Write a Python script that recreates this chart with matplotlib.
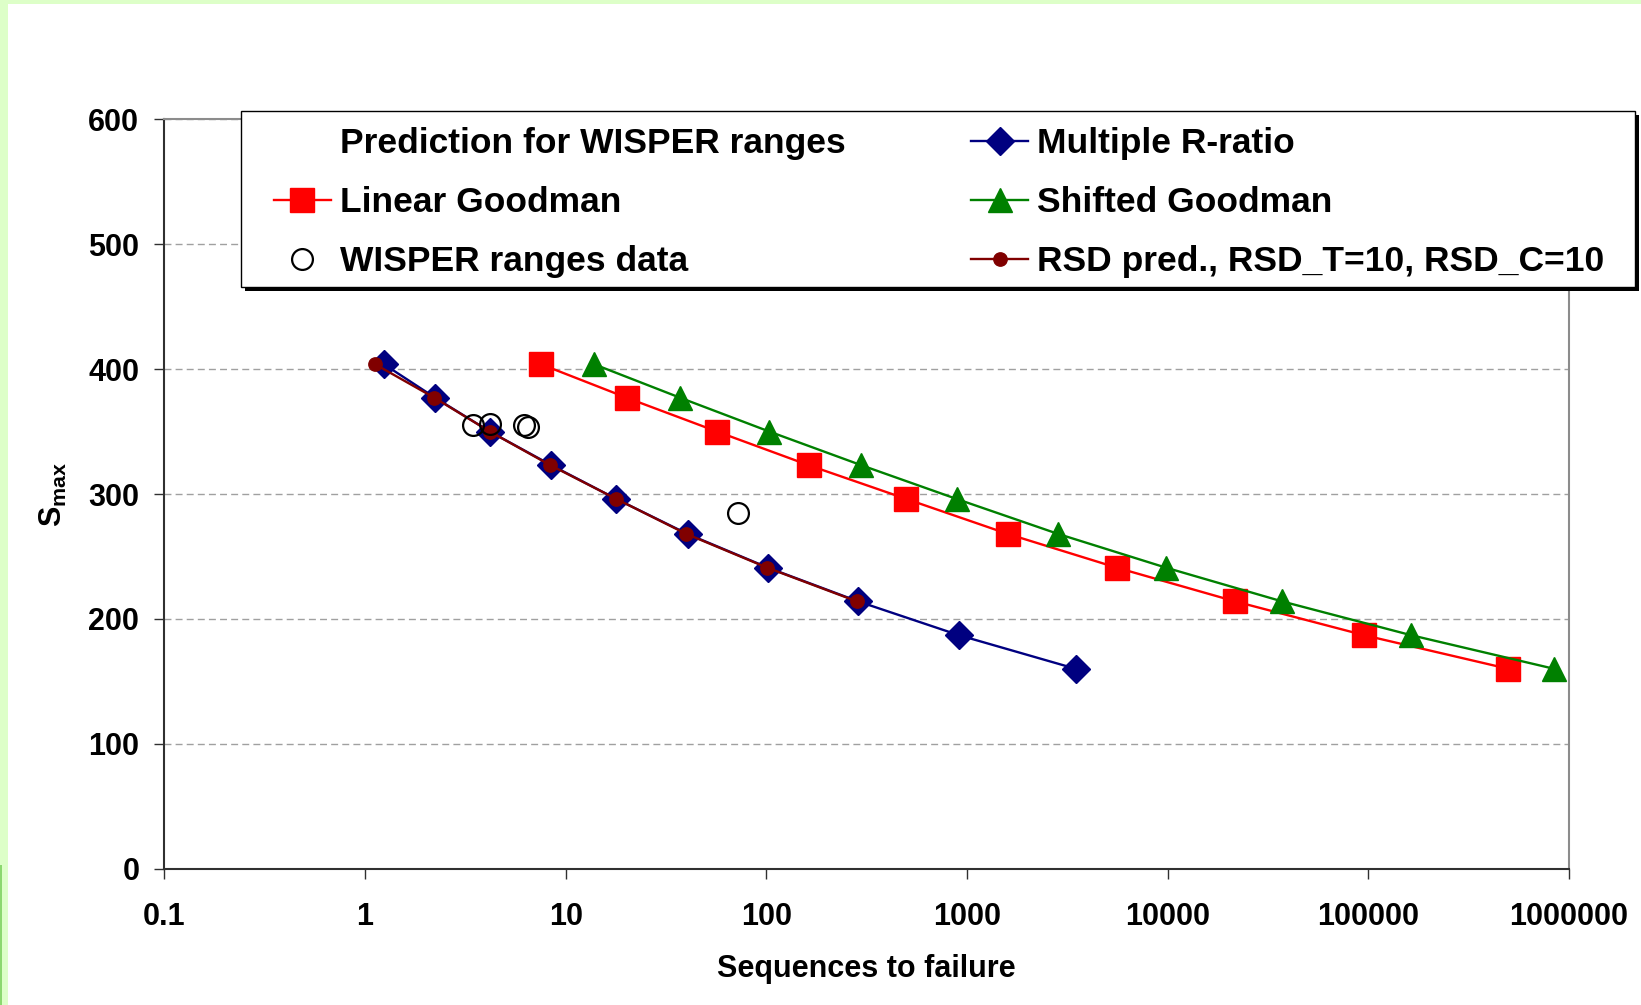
import matplotlib
matplotlib.use('Agg')
import matplotlib.pyplot as plt
from matplotlib.patches import Rectangle
from matplotlib.lines import Line2D
from matplotlib.ticker import NullLocator

plt.rcParams['font.family'] = ['Liberation Sans', 'DejaVu Sans']
plt.rcParams['font.weight'] = 'bold'
plt.rcParams['mathtext.fontset'] = 'custom'
plt.rcParams['mathtext.rm'] = 'Liberation Sans:bold'
plt.rcParams['mathtext.bf'] = 'Liberation Sans:bold'
plt.rcParams['mathtext.it'] = 'Liberation Sans:bold'

# ---------------- data ----------------
smax_levels = [404, 377, 350, 323, 296, 268, 241, 214, 187, 160]

multi_r_N = [1.24, 2.24, 4.19, 8.5, 17.9, 40.5, 102, 287, 910, 3490]
multi_r_S = smax_levels

rsd_N = [1.12, 2.22, 4.19, 8.4, 17.9, 40.0, 101, 283]
rsd_S = smax_levels[:8]

linear_N = [7.5, 20.2, 56.8, 163, 499, 1600, 5580, 21700, 95000, 499000]
linear_S = smax_levels

shifted_N = [13.8, 37.3, 103.5, 298, 889, 2850, 9820, 37200, 163000, 845000]
shifted_S = smax_levels

wisper_N = [3.46, 4.20, 6.20, 6.51, 72.4]
wisper_S = [355, 356, 355, 354, 285]

xtick_vals = [0.1, 1, 10, 100, 1000, 10000, 100000, 1000000]
xtick_labels = ['0.1', '1', '10', '100', '1000', '10000', '100000', '1000000']
ytick_vals = [0, 100, 200, 300, 400, 500, 600]

labels = ['Prediction for WISPER ranges', 'Linear Goodman', 'WISPER ranges data',
          'Multiple R-ratio', 'Shifted Goodman', 'RSD pred., RSD_T=10, RSD_C=10']

# ---------------- figure ----------------
W, H = 1641, 1005
fig = plt.figure(figsize=(W / 100, H / 100), dpi=100)
fig.patch.set_facecolor('#DDFFC8')
# white inner panel
fig.patches.append(Rectangle((8 / W, 0), 1 - 8 / W, 1 - 4 / H, transform=fig.transFigure,
                             fc='white', ec='none', zorder=-2))
fig.patches.append(Rectangle((0, 0), 2 / W, 1 - 865 / H, transform=fig.transFigure,
                             fc='#8CD870', ec='none', zorder=-1))

x0, x1 = 164.3, 1569.0
ytop, ybot = 119.3, 868.7
ax = fig.add_axes([x0 / W, 1 - ybot / H, (x1 - x0) / W, (ybot - ytop) / H])
ax.set_facecolor('white')

ax.set_xscale('log')
ax.set_xlim(0.1, 1e6)
ax.set_ylim(0, 600)

lw = 1.7
l_multi, = ax.plot(multi_r_N, multi_r_S, color='#000080', lw=lw, marker='D',
                   markersize=14, mfc='#000080', mec='#000080', zorder=3)
l_rsd, = ax.plot(rsd_N, rsd_S, color='#800000', lw=lw, marker='o',
                 markersize=9.6, mfc='#800000', mec='#800000', zorder=4)
l_lin, = ax.plot(linear_N, linear_S, color='#FF0000', lw=lw, marker='s',
                 markersize=17, mfc='#FF0000', mec='#FF0000', zorder=3)
l_shift, = ax.plot(shifted_N, shifted_S, color='#008000', lw=lw, marker='^',
                   markersize=17, mfc='#008000', mec='#008000', zorder=3)
l_wis, = ax.plot(wisper_N, wisper_S, linestyle='none', marker='o', markersize=15,
                 mfc='none', mec='black', mew=1.6, zorder=5)

ax.set_xticks(xtick_vals)
ax.set_xticklabels(xtick_labels)
ax.xaxis.set_minor_locator(NullLocator())
ax.set_yticks(ytick_vals)
ax.tick_params(axis='both', direction='out', length=7, width=1, color='#303030',
               labelsize=22)
ax.tick_params(axis='x', pad=17)
ax.tick_params(axis='y', pad=11)
for t in ax.get_xticklabels() + ax.get_yticklabels():
    t.set_fontweight('bold')

ax.set_axisbelow(True)
ax.yaxis.grid(True, linestyle=(0, (5, 3)), color='#A0A0A0', lw=1)
ax.xaxis.grid(False)

for s in ['left', 'bottom']:
    ax.spines[s].set_color('#303030')
    ax.spines[s].set_linewidth(1.5)
for s in ['top', 'right']:
    ax.spines[s].set_color('#8C8C8C')
    ax.spines[s].set_linewidth(1.5)

ax.set_xlabel('Sequences to failure', fontsize=22, fontweight='bold', labelpad=16)
ax.set_ylabel(r'$\mathbf{S}_{\mathbf{max}}$', fontsize=22)
ax.yaxis.set_label_coords(-0.068, 0.5)

# legend frame with shadow
lx0, lx1, ly0, ly1 = 240.7, 1634.8, 111.0, 286.8
fig.patches.append(Rectangle(((lx0 + 4) / W, 1 - (ly1 + 4) / H), (lx1 - lx0) / W, (ly1 - ly0) / H,
                             transform=fig.transFigure, fc='black', ec='none', zorder=4))
fig.patches.append(Rectangle((lx0 / W, 1 - ly1 / H), (lx1 - lx0) / W, (ly1 - ly0) / H,
                             transform=fig.transFigure, fc='white', ec='black', lw=1, zorder=4.5))

blank = Line2D([], [], linestyle='none', marker=None)
handles = [blank, l_lin, l_wis, l_multi, l_shift, l_rsd]
leg = fig.legend(handles, labels, ncol=2, frameon=False, loc='upper left',
                 bbox_to_anchor=(274 / W, 1 - 127.4 / H), borderpad=0, borderaxespad=0,
                 handlelength=1.6, handletextpad=0.25, columnspacing=3.56,
                 labelspacing=0.73, prop={'size': 25.5, 'weight': 'bold'})
leg.set_zorder(6)

fig.savefig('out.png', dpi=100, facecolor=fig.get_facecolor())
